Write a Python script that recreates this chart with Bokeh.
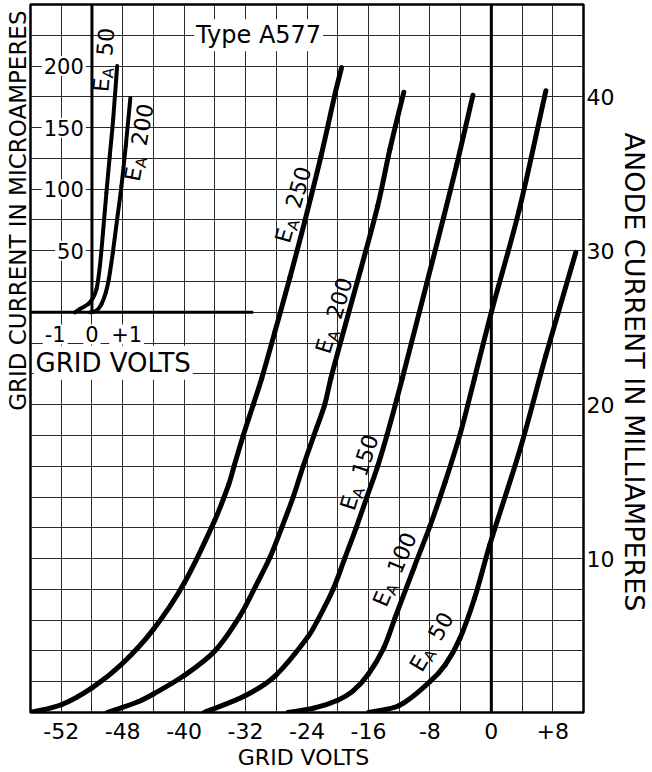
import math
from bokeh.plotting import figure
from bokeh.models import Range1d, FixedTicker, Label, Span, Title
from bokeh.embed import file_html
from bokeh.resources import INLINE

FONT = "DejaVu Sans"

# ---------------- main chart: anode current (mA) vs grid volts ----------------
volt_ticks = [-56, -48, -40, -32, -24, -16, -8, 0, 8]
volt_tick_labels = ["-52", "-48", "-40", "-32", "-24", "-16", "-8", "0", "+8"]
ma_ticks = [10, 20, 30, 40]
volt_grid = list(range(-60, 13, 4))
ma_grid = list(range(0, 47, 2))

ea250_v = [-60, -56, -52, -48, -44, -40, -36, -34.2, -33.5, -32.3, -31, -29.9, -28.2, -26.2, -24.3, -22.2, -20.3, -19.5]
ea250_ma = [0, 0.5, 1.6, 3.2, 5.4, 8.4, 12.5, 14.8, 16, 18, 20, 21.7, 24.7, 28.3, 31.9, 36.1, 40.3, 41.9]

ea200_v = [-50, -46, -44, -40, -36, -32.7, -30.7, -28.8, -27.3, -25.8, -24.5, -23.1, -21.7, -20.9, -19, -17, -14.8, -13.2, -11.4]
ea200_ma = [0, 0.7, 1.2, 2.4, 4.0, 6.3, 8.2, 10.1, 12, 14, 16, 18, 20, 21.7, 25.2, 28.8, 32.9, 36.6, 40.3]

ea150_v = [-37.4, -32, -28.1, -23.9, -22.6, -20.6, -19.1, -17.6, -16.2, -14.8, -13.6, -12.5, -11.6, -8.4, -6.2, -4.5, -2.4]
ea150_ma = [0, 1.1, 2.4, 4.9, 6, 8, 10, 12, 14, 16, 18, 20, 21.7, 27.9, 32.2, 35.6, 40.1]

ea100_v = [-26.5, -23, -20, -18, -16, -14, -12.5, -10, -8, -6, -4, -2.2, 0, 3.6, 7.1]
ea100_ma = [0, 0.3, 0.8, 1.4, 2.5, 4.2, 6.2, 9.5, 12.1, 15.0, 18.2, 21.7, 26.0, 32.6, 40.4]

ea50_v = [-16, -12, -8, -6, -4.1, -2.2, -0.2, 3.8, 7.1, 11]
ea50_ma = [0, 0.45, 2.0, 3.1, 4.8, 7.4, 10.9, 17.2, 23.2, 29.9]

curves = [("250", ea250_v, ea250_ma), ("200", ea200_v, ea200_ma), ("150", ea150_v, ea150_ma),
          ("100", ea100_v, ea100_ma), ("50", ea50_v, ea50_ma)]

# label anchors (centre of "E_A nnn" text, angle in degrees)
curve_label_v = [-25.8, -20.5, -17.2, -12.6, -7.8]
curve_label_ma = [33.0, 25.8, 15.6, 9.3, 4.6]
curve_label_ang = [74, 73, 72, 67, 60]

# ---------------- inset: grid current (microamperes) vs grid volts ----------------
inset_ua_ticks = [50, 100, 150, 200]
inset_volt_ticks = [-1, 0, 1]
inset_volt_labels = ["-1", "0", "+1"]
inset_axis_end_v = 5.25

in50_v = [-0.55, -0.39, -0.12, 0.04, 0.15, 0.26, 0.36, 0.47, 0.58, 0.69, 0.82]
in50_ua = [0, 2.7, 6.7, 12, 19, 38, 65, 97, 127, 156.5, 200]
in200_v = [-0.06, 0.15, 0.31, 0.45, 0.55, 0.68, 0.82, 0.96, 1.1, 1.25]
in200_ua = [0, 1.3, 6.7, 16, 27, 48.6, 75.6, 102.5, 135, 174]

inset_label_v = [0.38, 1.53]
inset_label_ua = [205, 138]
inset_label_ang = [85, 80]
inset_label_num = ["50", "200"]

# ---------------- figure ----------------
W, H = 652, 772
B_LEFT, B_RIGHT, B_TOP, B_BOTTOM = 30, 64, 4, 55
PX_PER_V = (W - B_LEFT - B_RIGHT) / 72.0
y_top = 46.0
PX_PER_MA = (H - B_TOP - B_BOTTOM) / y_top

p = figure(width=W, height=H, output_backend="svg", toolbar_location=None,
           x_range=Range1d(-60, 12), y_range=Range1d(0, y_top),
           y_axis_location="right", min_border_left=B_LEFT, min_border_right=B_RIGHT,
           min_border_top=B_TOP, min_border_bottom=B_BOTTOM)
p.background_fill_color = "white"
p.border_fill_color = "white"
p.outline_line_color = "black"
p.outline_line_width = 2.5

# inset scales: inset 0 V at main -52 V, 1 V per 4 main volts; 0 uA at 26 mA, 25 uA per 2 mA
IN_V0, IN_VK = -52.0, 4.0
IN_I0, IN_IK = 26.0, 12.5
p.extra_x_ranges = {"inv": Range1d((-60 - IN_V0) / IN_VK, (12 - IN_V0) / IN_VK)}
p.extra_y_ranges = {"inua": Range1d((0 - IN_I0) * IN_IK, (y_top - IN_I0) * IN_IK)}

p.xgrid.ticker = FixedTicker(ticks=volt_grid)
p.ygrid.ticker = FixedTicker(ticks=ma_grid)
for g in (p.xgrid, p.ygrid):
    g.grid_line_color = "#2a2a2a"
    g.grid_line_width = 1

ax = p.xaxis[0]
ax.ticker = FixedTicker(ticks=volt_ticks)
ax.major_label_overrides = {t: s for t, s in zip(volt_ticks, volt_tick_labels)}
ay = p.yaxis[0]
ay.ticker = FixedTicker(ticks=ma_ticks)

for a in (ax, ay):
    a.axis_line_color = None
    a.major_tick_line_color = None
    a.minor_tick_line_color = None
    a.major_tick_out = 0
    a.major_tick_in = 0
    a.major_label_text_font = FONT
    a.major_label_text_font_size = "22px"
    a.major_label_text_color = "black"
    a.axis_label_text_font = FONT
    a.axis_label_text_font_style = "normal"
    a.axis_label_text_color = "black"
ax.major_label_standoff = 10
ay.major_label_standoff = 3

ax.axis_label = "GRID  VOLTS"
ax.axis_label_text_font_size = "22px"
ax.axis_label_standoff = 3

# side titles (placed along the part of the frame they describe)
p.add_layout(Title(text="ANODE CURRENT IN MILLIAMPERES", align="left", offset=128, standoff=2,
                   text_font=FONT, text_font_size="27px", text_font_style="normal",
                   text_color="black"), "right")
p.add_layout(Title(text="GRID CURRENT IN MICROAMPERES", align="right", offset=6, standoff=0,
                   text_font=FONT, text_font_size="23px", text_font_style="normal",
                   text_color="black"), "left")

# zero grid-volt line
p.add_layout(Span(location=0, dimension="height", line_color="black", line_width=3))


def smooth_curve(xs, ys, kx, ky, width, **kw):
    """Draw a smooth line through the read points (cubic segments, chord-scaled tangents)."""
    n = len(xs)
    d = [math.hypot((xs[i + 1] - xs[i]) * kx, (ys[i + 1] - ys[i]) * ky) for i in range(n - 1)]
    tx, ty = [], []
    for i in range(n):
        if i == 0:
            tx.append((xs[1] - xs[0]) / d[0]); ty.append((ys[1] - ys[0]) / d[0])
        elif i == n - 1:
            tx.append((xs[-1] - xs[-2]) / d[-1]); ty.append((ys[-1] - ys[-2]) / d[-1])
        else:
            s = d[i - 1] + d[i]
            tx.append((xs[i + 1] - xs[i - 1]) / s); ty.append((ys[i + 1] - ys[i - 1]) / s)
    seg = dict(x0=[], y0=[], x1=[], y1=[], cx0=[], cy0=[], cx1=[], cy1=[])
    for i in range(n - 1):
        seg["x0"].append(xs[i]); seg["y0"].append(ys[i])
        seg["x1"].append(xs[i + 1]); seg["y1"].append(ys[i + 1])
        seg["cx0"].append(xs[i] + tx[i] * d[i] / 3); seg["cy0"].append(ys[i] + ty[i] * d[i] / 3)
        seg["cx1"].append(xs[i + 1] - tx[i + 1] * d[i] / 3); seg["cy1"].append(ys[i + 1] - ty[i + 1] * d[i] / 3)
    p.bezier(line_color="black", line_width=width, line_cap="round", **seg, **kw)


for name, v, ma in curves:
    smooth_curve(v, ma, PX_PER_V, PX_PER_MA, 5)

# inset axes and curves
p.ray(x=[0], y=[0], angle=math.pi / 2, length=0, line_color="black", line_width=3,
      x_range_name="inv", y_range_name="inua")
p.ray(x=[inset_axis_end_v], y=[0], angle=math.pi, length=0, line_color="black", line_width=3,
      x_range_name="inv", y_range_name="inua")
for v, ua in ((in50_v, in50_ua), (in200_v, in200_ua)):
    smooth_curve(v, ua, PX_PER_V * IN_VK, PX_PER_MA / IN_IK, 4, x_range_name="inv", y_range_name="inua")


def label_group(v, i, ang_deg, number, xr="default", yr="default"):
    th = math.radians(ang_deg)
    c, s = math.cos(th), math.sin(th)
    big, small = 22, 15
    w_e = 0.632 * big
    w_a = 0.684 * small
    gap = 12
    w_n = 0.636 * big * len(number)
    total = w_e + w_a + gap + w_n
    parts = [("E", big, 0.0, 0.0), ("A", small, w_e + 0.5, -6.0), (number, big, w_e + w_a + gap, 0.0)]
    for txt, size, along, perp in parts:
        a_ = along - total / 2
        dx = a_ * c - perp * s
        dy = a_ * s + perp * c
        p.add_layout(Label(x=v, y=i, x_offset=dx, y_offset=dy, angle=th, text=txt,
                           text_font=FONT, text_font_size=f"{size}px", text_color="black",
                           text_align="left", text_baseline="middle",
                           x_range_name=xr, y_range_name=yr))


for (name, _, _), lv, li, la in zip(curves, curve_label_v, curve_label_ma, curve_label_ang):
    label_group(lv, li, la, name)
for lv, li, la, num in zip(inset_label_v, inset_label_ua, inset_label_ang, inset_label_num):
    label_group(lv, li, la, num, "inv", "inua")

# inset tick labels (white boxes over the grid)
for t in inset_ua_ticks:
    p.add_layout(Label(x=-0.2, y=t, text=str(t), text_font=FONT, text_font_size="21px",
                       text_color="black", text_align="right", text_baseline="middle",
                       background_fill_color="white", padding=2,
                       x_range_name="inv", y_range_name="inua"))
for t, s, off in zip(inset_volt_ticks, inset_volt_labels, [-6, 0, 4]):
    p.add_layout(Label(x=t, y=-18, x_offset=off, text=s, text_font=FONT, text_font_size="21px",
                       text_color="black", text_align="center", text_baseline="middle",
                       background_fill_color="white", padding=2,
                       x_range_name="inv", y_range_name="inua"))
p.add_layout(Label(x=-1.9, y=-41, text="GRID VOLTS", text_font=FONT, text_font_size="26px",
                   text_color="black", text_align="left", text_baseline="middle",
                   background_fill_color="white", padding=2,
                   x_range_name="inv", y_range_name="inua"))

# title box
p.add_layout(Label(x=-30.3, y=44, text="Type A577", text_font=FONT, text_font_size="24px",
                   text_color="black", text_align="center", text_baseline="middle",
                   background_fill_color="white", padding=2))

open("out.html", "w").write(file_html(p, INLINE))
